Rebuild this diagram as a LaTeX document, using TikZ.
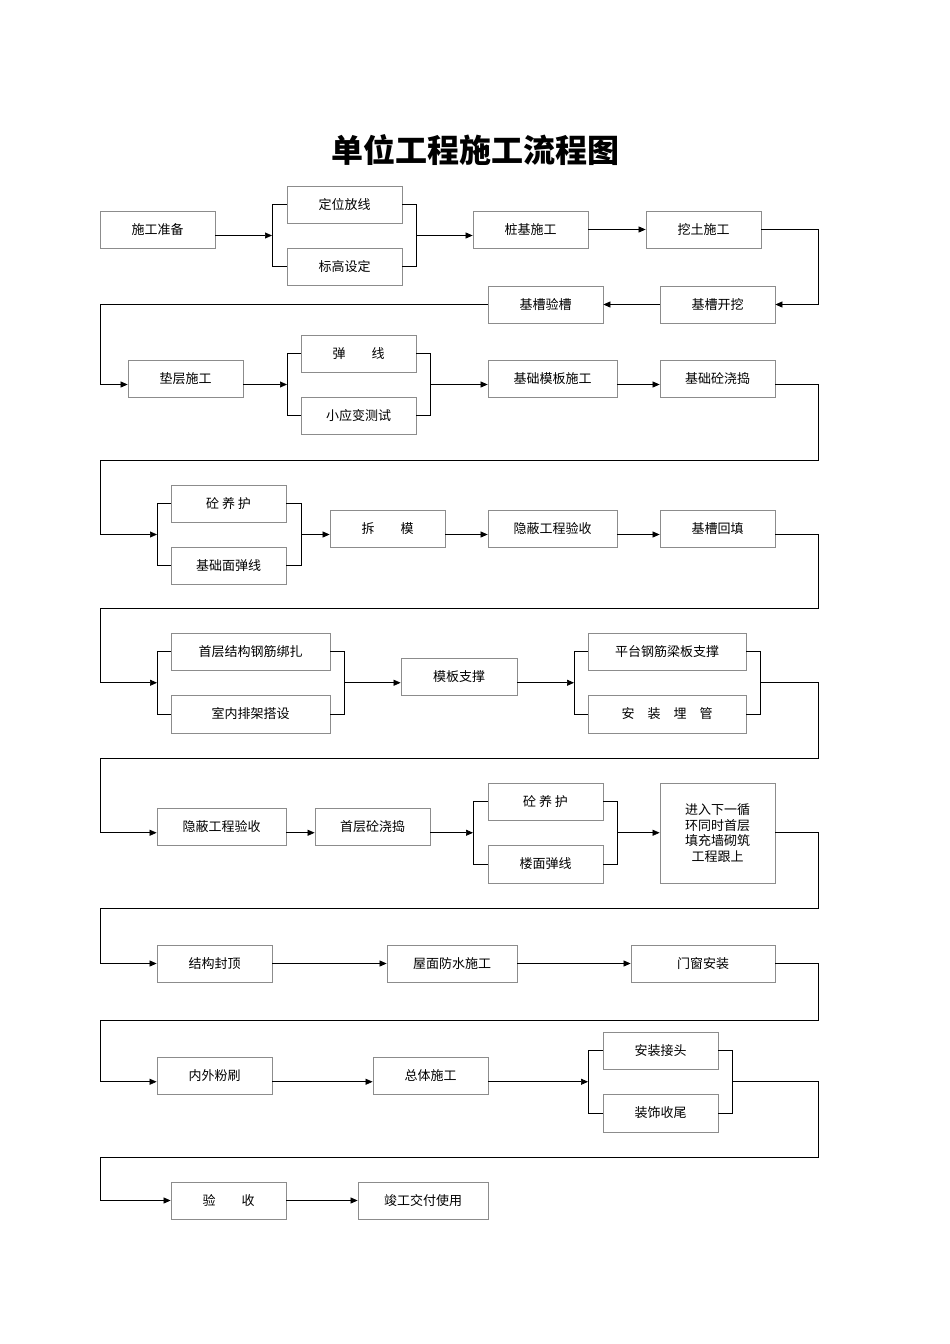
\documentclass[tikz,border=0pt]{standalone}
\usepackage{fontspec}
\setmainfont{Noto Sans CJK SC}
\usetikzlibrary{arrows.meta,calc}
\newcommand\bx[6]{\node[bx,minimum width={#4pt-#2pt},minimum height={#5pt-#3pt}] (#1) at ({(#2+#4)/2},{(#3+#5)/2}) {#6};}
% bracket: name, top node, bottom node, x left, x right
\newcommand\brk[5]{%
 \draw[ln] (#2.west) -- (#4,0 |- #2.west) -- (#4,0 |- #3.west) -- (#3.west);
 \draw[ln] (#2.east) -- (#5,0 |- #2.east) -- (#5,0 |- #3.east) -- (#3.east);
 \coordinate (#1-l) at ($(#4,0|-#2.west)!0.5!(#4,0|-#3.west)$);
 \coordinate (#1-r) at ($(#5,0|-#2.east)!0.5!(#5,0|-#3.east)$);}
\begin{document}
\begin{tikzpicture}[x=1pt,y=-1pt,
 bx/.style={draw=black!45,line width=0.8pt,inner sep=0pt,font=\fontsize{13pt}{15.5pt}\selectfont,align=center},
 ln/.style={draw=black,line width=0.7pt},
 ar/.style={ln,-{Triangle[length=7pt,width=6pt]}}]
\useasboundingbox (0,0) rectangle (950,1344);
\node[font=\fontsize{32pt}{36pt}\selectfont\bfseries] (title) at (475,150) {单位工程施工流程图};
% row1
\bx{a1}{100}{211}{215}{248}{施工准备}
\bx{a2}{287}{186}{402}{223}{定位放线}
\bx{a3}{287}{248}{402}{285}{标高设定}
\brk{ba}{a2}{a3}{272}{416}
\bx{a4}{473}{211}{588}{248}{桩基施工}
\bx{a5}{646}{211}{761}{248}{挖土施工}
\draw[ar] (a1.east |- ba-l) -- (ba-l);
\draw[ar] (ba-r) -- (ba-r -| a4.west);
\draw[ar] (a4) -- (a5);
% row2
\bx{b1}{660}{286}{775}{323}{基槽开挖}
\bx{b2}{488}{286}{603}{323}{基槽验槽}
\draw[ar] (a5.east) -- (818,229.5) -- (818,304.5) -- (b1.east);
\draw[ar] (b1) -- (b2);
% row3
\bx{c1}{128}{360}{243}{397}{垫层施工}
\bx{c2}{301}{335}{416}{372}{弹\qquad 线}
\bx{c3}{301}{397}{416}{434}{小应变测试}
\brk{bc}{c2}{c3}{287}{430}
\bx{c4}{488}{360}{617}{397}{基础模板施工}
\bx{c5}{660}{360}{775}{397}{基础砼浇捣}
\draw[ar] (b2.west) -- (100,304.5) |- (c1.west |- bc-l);
\draw[ar] (c1.east |- bc-l) -- (bc-l);
\draw[ar] (bc-r) -- (bc-r -| c4.west);
\draw[ar] (bc-r -| c4.east) -- (bc-r -| c5.west);
% row4
\bx{d1}{171}{485}{286}{522}{砼\ 养\ 护}
\bx{d2}{171}{547}{286}{584}{基础面弹线}
\brk{bd}{d1}{d2}{157}{301}
\bx{d3}{330}{510}{445}{547}{拆\qquad 模}
\bx{d4}{488}{510}{617}{547}{隐蔽工程验收}
\bx{d5}{660}{510}{775}{547}{基槽回填}
\draw[ar] (bc-r -| c5.east) -| (818,460) -- (100,460) |- (bd-l);
\draw[ar] (bd-r) -- (bd-r -| d3.west);
\draw[ar] (bd-r -| d3.east) -- (bd-r -| d4.west);
\draw[ar] (bd-r -| d4.east) -- (bd-r -| d5.west);
% row5
\bx{e1}{171}{633}{330}{670}{首层结构钢筋绑扎}
\bx{e2}{171}{695}{330}{733}{室内排架搭设}
\brk{be}{e1}{e2}{157}{344}
\bx{e3}{401}{658}{517}{695}{模板支撑}
\bx{e4}{588}{633}{746}{670}{平台钢筋梁板支撑}
\bx{e5}{588}{695}{746}{733}{安\quad 装\quad 埋\quad 管}
\brk{bf}{e4}{e5}{574}{760}
\draw[ar] (bd-r -| d5.east) -| (818,608) -- (100,608) |- (be-l);
\draw[ar] (be-r) -- (be-r -| e3.west);
\draw[ar] (be-r -| e3.east) -- (bf-l);
% row6
\bx{f1}{157}{808}{286}{845}{隐蔽工程验收}
\bx{f2}{315}{808}{430}{845}{首层砼浇捣}
\bx{f3}{488}{783}{603}{820}{砼\ 养\ 护}
\bx{f4}{488}{845}{603}{883}{楼面弹线}
\brk{bg}{f3}{f4}{473}{617}
\bx{f5}{660}{783}{775}{883}{进入下一循\\环同时首层\\填充墙砌筑\\工程跟上}
\draw[ar] (bf-r) -| (818,758) -- (100,758) |- (bg-l -| f1.west);
\draw[ar] (bg-l -| f1.east) -- (bg-l -| f2.west);
\draw[ar] (bg-l -| f2.east) -- (bg-l);
\draw[ar] (bg-r) -- (bg-r -| f5.west);
% row7
\bx{g1}{157}{945}{272}{982}{结构封顶}
\bx{g2}{387}{945}{517}{982}{屋面防水施工}
\bx{g3}{631}{945}{775}{982}{门窗安装}
\draw[ar] (bg-r -| f5.east) -| (818,908) -- (100,908) |- (g1.west);
\draw[ar] (g1) -- (g2);
\draw[ar] (g2) -- (g3);
% row8
\bx{h1}{157}{1057}{272}{1094}{内外粉刷}
\bx{h2}{373}{1057}{488}{1094}{总体施工}
\bx{h3}{603}{1032}{718}{1069}{安装接头}
\bx{h4}{603}{1094}{718}{1132}{装饰收尾}
\brk{bh}{h3}{h4}{588}{732}
\draw[ar] (g3.east) -| (818,1020) -- (100,1020) |- (bh-l -| h1.west);
\draw[ar] (bh-l -| h1.east) -- (bh-l -| h2.west);
\draw[ar] (bh-l -| h2.east) -- (bh-l);
% row9
\bx{i1}{171}{1182}{286}{1219}{验\qquad 收}
\bx{i2}{358}{1182}{488}{1219}{竣工交付使用}
\draw[ar] (bh-r) -| (818,1157) -- (100,1157) |- (i1.west);
\draw[ar] (i1) -- (i2);
\end{tikzpicture}
\end{document}
